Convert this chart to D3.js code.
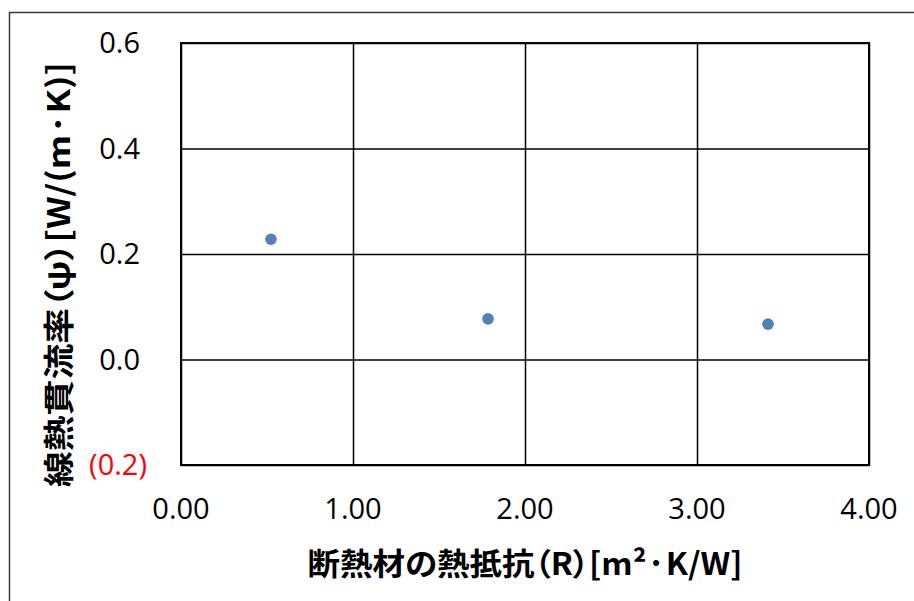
<!DOCTYPE html>
<html><head><meta charset="utf-8">
<script src="https://cdn.jsdelivr.net/npm/d3@7"></script>
<style>body{margin:0;background:#fff}svg{display:block}.ttl{font-feature-settings:"palt"}</style>
</head><body>
<svg id="c" width="914" height="601"></svg>
<script>
const xValues = [0.523, 1.785, 3.413];
const yValues = [0.228, 0.077, 0.067];
const xTicks = [0, 1, 2, 3, 4];
const xTickLabels = ["0.00", "1.00", "2.00", "3.00", "4.00"];
const yTicks = [-0.2, 0, 0.2, 0.4, 0.6];
const yTickLabels = ["(0.2)", "0.0", "0.2", "0.4", "0.6"];
const xTitle = "断熱材の熱抵抗（R）[m²·K/W]";
const yTitle = "線熱貫流率（ψ）[W/(m·K)]";

const svg = d3.select("#c");
const L = 181, R = 869, T = 43, B = 465;
const x = d3.scaleLinear().domain([0, 4]).range([L, R]);
const y = d3.scaleLinear().domain([-0.2, 0.6]).range([B, T]);

// outer chart border
svg.append("rect").attr("x", 9.5).attr("y", 12.5).attr("width", 920).attr("height", 620)
  .attr("fill", "#fff").attr("stroke", "#3a3a3a").attr("stroke-width", 1.5);

// gridlines via axes
svg.append("g")
  .call(d3.axisBottom(x).tickValues(xTicks).tickSize(B - T).tickFormat(""))
  .attr("transform", `translate(0,${T})`)
  .call(g => g.select(".domain").remove())
  .call(g => g.selectAll("line").attr("stroke", "#000").attr("stroke-width", 1.5));
svg.append("g").attr("transform", `translate(${L},0)`)
  .call(d3.axisRight(y).tickValues(yTicks).tickSize(R - L).tickFormat(""))
  .call(g => g.select(".domain").remove())
  .call(g => g.selectAll("line").attr("stroke", "#000").attr("stroke-width", 1.5));

// plot border
svg.append("rect").attr("x", L).attr("y", T).attr("width", R - L).attr("height", B - T)
  .attr("fill", "none").attr("stroke", "#000").attr("stroke-width", 2);

const tickFont = "'Open Sans', 'Noto Sans', sans-serif";
svg.append("g").selectAll("text").data(xTicks).join("text")
  .attr("x", d => x(d)).attr("y", 519)
  .attr("text-anchor", "middle").attr("font-family", tickFont).attr("font-size", 29)
  .attr("fill", "#000").text((d, i) => xTickLabels[i]);

svg.append("g").selectAll("text").data(yTicks).join("text")
  .attr("x", d => d < 0 ? 147 : 140).attr("y", d => y(d)).attr("dy", "0.35em")
  .attr("text-anchor", "end").attr("font-family", tickFont).attr("font-size", 29)
  .attr("fill", d => d < 0 ? "#ff0000" : "#000").text((d, i) => yTickLabels[i]);

svg.append("g").selectAll("circle").data(xValues).join("circle")
  .attr("cx", d => x(d)).attr("cy", (d, i) => y(yValues[i])).attr("r", 5.8)
  .attr("fill", "#4f81bd");

const titleFont = "'Noto Sans CJK JP', 'Noto Sans', sans-serif";
svg.append("text").attr("class", "ttl").attr("x", 525).attr("y", 575)
  .attr("text-anchor", "middle").attr("font-family", titleFont).attr("font-weight", "bold")
  .attr("font-size", 31).attr("textLength", 435).attr("lengthAdjust", "spacingAndGlyphs")
  .text(xTitle);

svg.append("text").attr("class", "ttl").attr("transform", "translate(59,274.5) rotate(-90)")
  .attr("text-anchor", "middle").attr("dy", "0.35em").attr("font-family", titleFont).attr("font-weight", "bold")
  .attr("font-size", 31).attr("textLength", 425).attr("lengthAdjust", "spacingAndGlyphs")
  .text(yTitle);
</script>
</body></html>
